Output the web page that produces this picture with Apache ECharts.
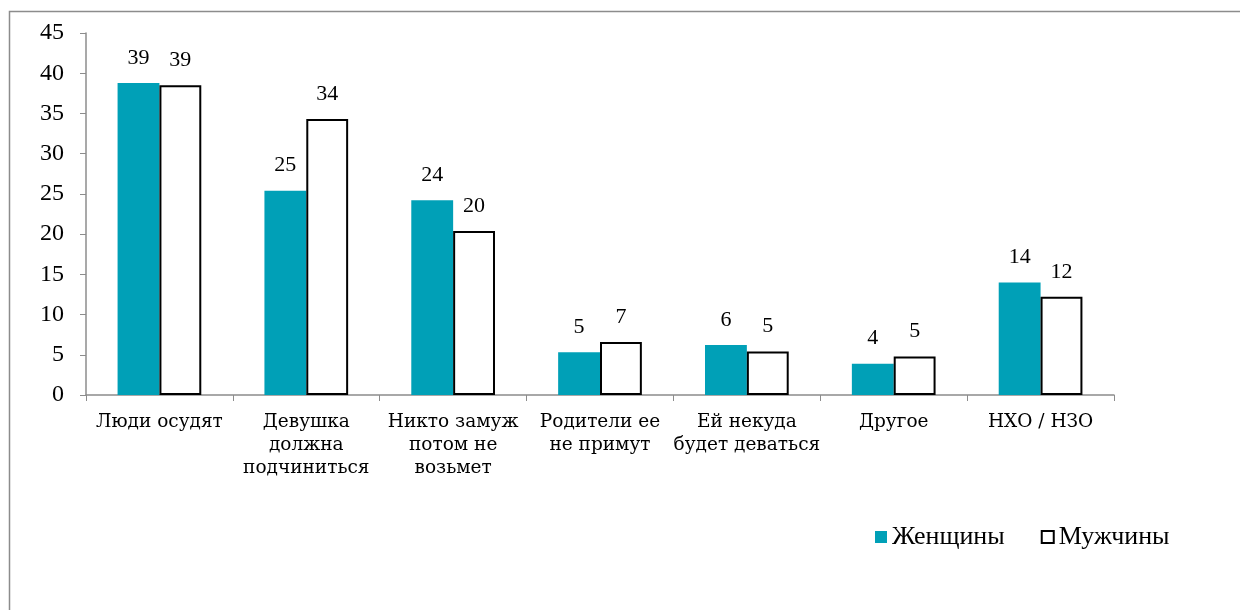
<!DOCTYPE html>
<html>
<head>
<meta charset="utf-8">
<script src="https://cdn.jsdelivr.net/npm/echarts@6/dist/echarts.min.js"></script>
<style>
  html, body { margin: 0; padding: 0; background: #fff; }
  #chart { width: 1240px; height: 610px; }
</style>
</head>
<body>
<div id="chart"></div>
<script>
// categories and values
const categories = [
  'Люди осудят',
  'Девушка\nдолжна\nподчиниться',
  'Никто замуж\nпотом не\nвозьмет',
  'Родители ее\nне примут',
  'Ей некуда\nбудет деваться',
  'Другое',
  'НХО / НЗО',
];
const women = [38.8, 25.4, 24.2, 5.3, 6.2, 3.9, 14.0];
const men = [38.5, 34.3, 20.4, 6.6, 5.4, 4.8, 12.2];
const yTicks = { min: 0, max: 45, interval: 5 };

const serif = '"Liberation Serif", "Times New Roman", serif';
const catFont = '"DejaVu Serif", serif';
const teal = '#00A0B7';

const chart = echarts.init(document.getElementById('chart'));

const labelStyle = {
  show: true,
  position: 'top',
  distance: 14,
  fontFamily: serif,
  fontSize: 22,
  color: '#000',
  formatter: (p) => Math.round(p.value),
};

chart.setOption({
  animation: false,
  graphic: [{
    type: 'rect',
    shape: { x: 9.5, y: 11.5, width: 1400, height: 800 },
    style: { fill: 'none', stroke: '#8c8c8c', lineWidth: 1.5 },
    silent: true,
  }],
  grid: { left: 86, right: 126, top: 33, bottom: 215 },
  legend: {
    left: 870,
    top: 519,
    itemWidth: 12,
    itemHeight: 12,
    itemGap: 36,
    icon: 'rect',
    textStyle: { fontFamily: serif, fontSize: 26, color: '#000' },
    data: ['Женщины', 'Мужчины'],
  },
  xAxis: {
    type: 'category',
    data: categories,
    axisLine: { lineStyle: { color: '#8c8c8c', width: 1.5 } },
    axisTick: { show: true, length: 6, lineStyle: { color: '#8c8c8c' } },
    axisLabel: {
      interval: 0,
      margin: 16,
      fontFamily: catFont,
      fontSize: 18.5,
      lineHeight: 23,
      color: '#000',
    },
  },
  yAxis: {
    type: 'value',
    min: yTicks.min,
    max: yTicks.max,
    interval: yTicks.interval,
    splitLine: { show: false },
    axisLine: { show: true, lineStyle: { color: '#8c8c8c', width: 1.5 } },
    axisTick: { show: true, length: 6, lineStyle: { color: '#8c8c8c' } },
    axisLabel: { margin: 22, fontFamily: serif, fontSize: 24, color: '#000' },
  },
  series: [
    {
      name: 'Женщины',
      type: 'bar',
      data: women,
      barGap: '0%',
      barCategoryGap: '43%',
      itemStyle: { color: teal },
      label: labelStyle,
    },
    {
      name: 'Мужчины',
      type: 'bar',
      data: men,
      itemStyle: { color: '#fff', borderColor: '#000', borderWidth: 2 },
      label: labelStyle,
    },
  ],
});
</script>
</body>
</html>
